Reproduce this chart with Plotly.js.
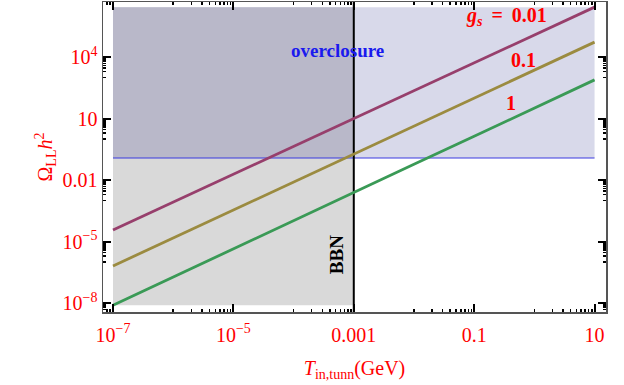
<!DOCTYPE html>
<html>
<head>
<meta charset="utf-8">
<script src="https://cdn.plot.ly/plotly-3.0.1.min.js"></script>
<style>html,body{margin:0;padding:0;background:#fff;}#chart{width:624px;height:385px;}</style>
</head>
<body>
<div id="chart"></div>
<script>
// ---- data ----
const T = [1e-7, 1e-6, 1e-5, 1e-4, 1e-3, 1e-2, 1e-1, 1, 10];
const omega_gs001 = [3.7e-5, 8.5e-4, 1.95e-2, 0.45, 10.2, 229, 5250, 1.2e5, 2.75e6];
const omega_gs01  = [6.5e-7, 1.5e-5, 3.5e-4, 7.9e-3, 0.186, 4.3, 98, 2290, 5.4e4];
const omega_gs1   = [7.9e-9, 1.9e-7, 4.5e-6, 1.05e-4, 2.5e-3, 0.059, 1.38, 33, 776];
const OMEGA_DM = 0.12;       // overclosure bound
const T_BBN = 1e-3;          // BBN bound (GeV)
const xTickVals = [1e-7, 1e-5, 1e-3, 1e-1, 10];
const xTickText = ['10<sup>\u22127</sup>', '10<sup>\u22125</sup>', '0.001', '0.1', '10'];
const yTickVals = [1e-8, 1e-5, 1e-2, 10, 1e4];
const yTickText = ['10<sup>\u22128</sup>', '10<sup>\u22125</sup>', '0.01', '10', '10<sup>4</sup>'];

// ---- derived ----
const xMin = T[0], xMax = T[T.length - 1];
const yMin = Math.min(...omega_gs1), yMax = Math.max(...omega_gs001);
function minorFor(vals) {
  const out = [];
  vals.forEach(v => { const e = Math.round(Math.log10(v)) - 1;
    for (let k = 1; k <= 9; k++) out.push(k * Math.pow(10, e)); });
  return out;
}
function rect(x0, x1, y0, y1, color) {
  return {x: [x0, x1, x1, x0, x0], y: [y0, y0, y1, y1, y0], type: 'scatter', mode: 'lines',
    fill: 'toself', fillcolor: color, line: {width: 0}, hoverinfo: 'skip', showlegend: false};
}
function line(x, y, color, w) {
  return {x: x, y: y, type: 'scatter', mode: 'lines', line: {color: color, width: w},
    hoverinfo: 'skip', showlegend: false};
}

const traces = [
  rect(xMin, xMax, OMEGA_DM, yMax, '#d8d9ea'),
  rect(xMin, T_BBN, yMin, OMEGA_DM, '#d9d9d9'),
  rect(xMin, T_BBN, OMEGA_DM, yMax, '#b9b8c9'),
  line([xMin, xMax], [OMEGA_DM, OMEGA_DM], '#3a3ae0', 1.2),
  line([T_BBN, T_BBN], [1e-10, 1e9], '#000000', 2),
  line(T, omega_gs001, '#973f6c', 2.8),
  line(T, omega_gs01, '#9b8b40', 2.8),
  line(T, omega_gs1, '#3a9a56', 2.8)
];

const tickFont = {family: 'Liberation Serif, Times New Roman, serif', size: 20, color: '#ff0000'};
const axisCommon = {
  type: 'log', showgrid: false, zeroline: false, showline: true, linecolor: '#555555', linewidth: 1.5,
  mirror: 'ticks', ticks: 'inside', ticklen: 8, tickwidth: 2, tickcolor: '#000000',
  tickmode: 'array', tickfont: tickFont
};

const layout = {
  width: 624, height: 385,
  margin: {l: 103, r: 18, t: 2, b: 73},
  paper_bgcolor: '#ffffff', plot_bgcolor: '#ffffff',
  showlegend: false,
  xaxis: Object.assign({}, axisCommon, {
    range: [Math.log10(xMin) - 0.166, Math.log10(xMax) + 0.19],
    tickvals: xTickVals, ticktext: xTickText, ticklabelstandoff: 4,
    minor: {tickmode: 'array', tickvals: minorFor(xTickVals), ticks: 'inside', ticklen: 3, tickwidth: 1.5, tickcolor: '#000000'},
    title: {text: '<i>T</i><sub>in,tunn</sub>(GeV)', font: tickFont, standoff: 16}
  }),
  yaxis: Object.assign({}, axisCommon, {
    range: [Math.log10(yMin) - 0.33, Math.log10(yMax) + 0.25],
    tickvals: yTickVals, ticktext: yTickText,
    minor: {tickmode: 'array', tickvals: minorFor(yTickVals), ticks: 'inside', ticklen: 3, tickwidth: 1.5, tickcolor: '#000000'},
    title: {text: '\u03A9<sub>LL</sub><i>h</i><sup>2</sup>', font: tickFont, standoff: 4}
  }),
  annotations: [
    {x: Math.log10(5.4e-4), y: 4.33, xref: 'x', yref: 'y', showarrow: false,
     text: '<b>overclosure</b>', font: {family: 'Liberation Serif, serif', size: 19, color: '#1a1aee'}},
    {x: Math.log10(5.3e-4), y: -5.65, xref: 'x', yref: 'y', showarrow: false, textangle: -90,
     text: '<b>BBN</b>', font: {family: 'Liberation Serif, serif', size: 19, color: '#000000'}},
    {x: -0.46, y: 6.0, xref: 'x', yref: 'y', showarrow: false,
     text: '<b><i>g</i><sub><i>s</i></sub> \u2009= \u20090.01</b>', font: {family: 'Liberation Serif, serif', size: 20, color: '#ff0000'}},
    {x: -0.18, y: 3.84, xref: 'x', yref: 'y', showarrow: false,
     text: '<b>0.1</b>', font: {family: 'Liberation Serif, serif', size: 20, color: '#ff0000'}},
    {x: -0.38, y: 1.74, xref: 'x', yref: 'y', showarrow: false,
     text: '<b>1</b>', font: {family: 'Liberation Serif, serif', size: 20, color: '#ff0000'}}
  ]
};

Plotly.newPlot('chart', traces, layout, {staticPlot: true, displayModeBar: false});
</script>
</body>
</html>
